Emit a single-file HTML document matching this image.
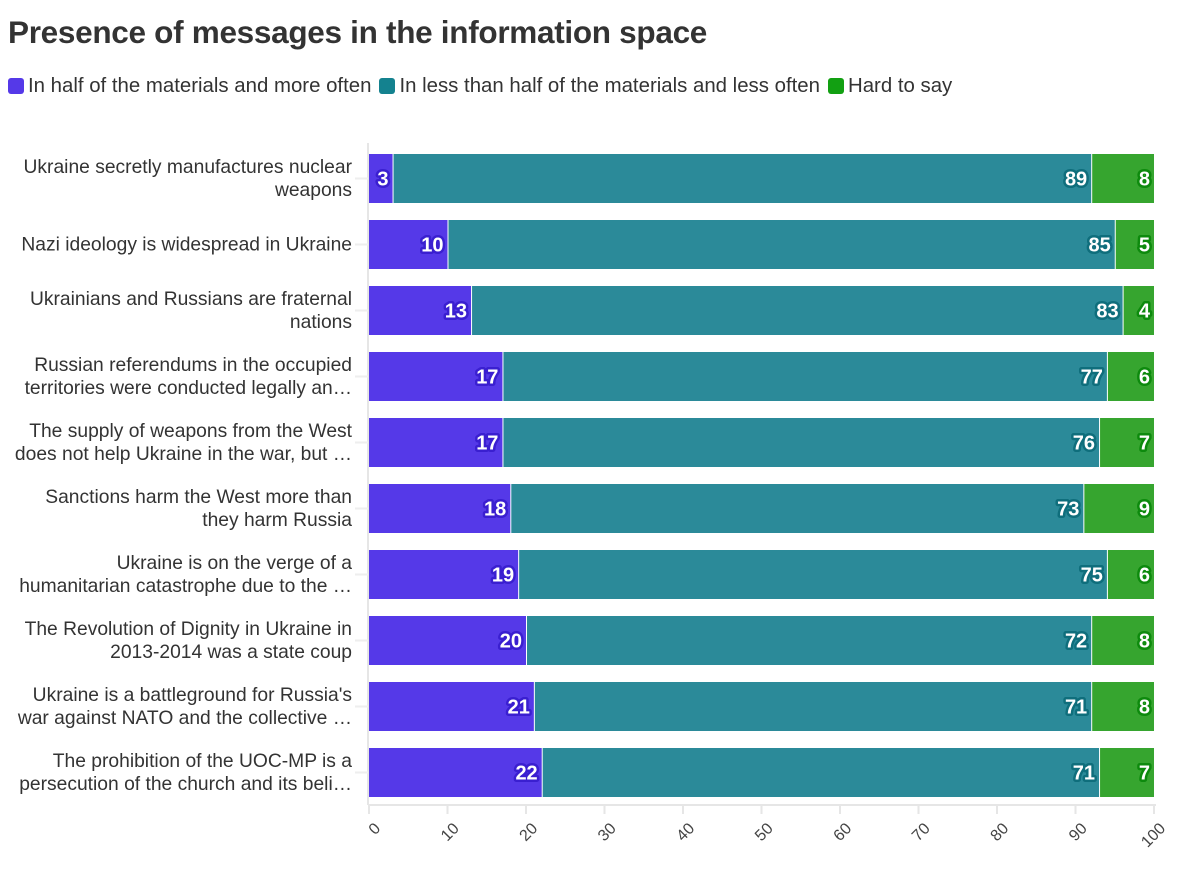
<!DOCTYPE html>
<html><head><meta charset="utf-8"><style>
body{margin:0;background:#fff;font-family:"Liberation Sans",sans-serif;}
#wrap{position:relative;width:1184px;height:872px;overflow:hidden}
h1{position:absolute;left:8px;top:14px;margin:0;font-size:31.5px;font-weight:bold;color:#333;letter-spacing:-0.3px}
.legend{position:absolute;left:8px;top:75px;font-size:20.4px;color:#333;display:flex;gap:8px}
.legend span.sw{display:inline-block;width:16px;height:16px;border-radius:3px;vertical-align:-2px;margin-right:4px}
</style></head><body><div id="wrap">
<h1>Presence of messages in the information space</h1>
<div class="legend">
<div><span class="sw" style="background:#5539e8"></span>In half of the materials and more often</div>
<div><span class="sw" style="background:#14828f"></span>In less than half of the materials and less often</div>
<div><span class="sw" style="background:#12a012"></span>Hard to say</div>
</div>
<svg id="svg" width="1184" height="872" style="position:absolute;left:0;top:0"></svg>
</div>
<script>
const categories=[["Ukraine secretly manufactures nuclear","weapons"],["Nazi ideology is widespread in Ukraine"],["Ukrainians and Russians are fraternal","nations"],["Russian referendums in the occupied","territories were conducted legally an…"],["The supply of weapons from the West","does not help Ukraine in the war, but …"],["Sanctions harm the West more than","they harm Russia"],["Ukraine is on the verge of a","humanitarian catastrophe due to the …"],["The Revolution of Dignity in Ukraine in","2013-2014 was a state coup"],["Ukraine is a battleground for Russia's","war against NATO and the collective …"],["The prohibition of the UOC-MP is a","persecution of the church and its beli…"]];
const often=[3,10,13,17,17,18,19,20,21,22];
const less=[89,85,83,77,76,73,75,72,71,71];
const hard=[8,5,4,6,7,9,6,8,8,7];
const ticks=[0,10,20,30,40,50,60,70,80,90,100];
const svg=document.getElementById('svg');const NS='http://www.w3.org/2000/svg';
function mk(t,a,p){const e=document.createElementNS(NS,t);for(const k in a)e.setAttribute(k,a[k]);(p||svg).appendChild(e);return e;}
const x=v=>369+v*7.85;
const rowTop=i=>154+i*66;const bh=49;
mk('line',{x1:368,y1:143,x2:368,y2:805,stroke:'#e6e6e6','stroke-width':2});
mk('line',{x1:368,y1:805,x2:1156,y2:805,stroke:'#e6e6e6','stroke-width':2});
ticks.forEach(t=>{
 mk('line',{x1:x(t),y1:805,x2:x(t),y2:814,stroke:'#e6e6e6','stroke-width':2});
 const ax=x(t)+5,ay=822;
 const tx=mk('text',{x:ax,y:ay,transform:`rotate(-45 ${ax} ${ay})`,'font-size':16,fill:'#444','text-anchor':'end','dominant-baseline':'hanging'});tx.textContent=t;
 
});
const series=[[often,'#5539e8','#3a1fd0'],[less,'#2b8a99','#0f6e7c'],[hard,'#36a52f','#0d8a0d']];
categories.forEach((c,i)=>{
 const y=rowTop(i);
 mk('line',{x1:355,y1:y+bh/2,x2:368,y2:y+bh/2,stroke:'#eee','stroke-width':2});
 const n=c.length;
 c.forEach((l,j)=>{const t=mk('text',{x:352,y:y+bh/2+6+(j-(n-1)/2)*23,'text-anchor':'end','font-size':17.5,fill:'#333',textLength:0});t.removeAttribute('textLength');t.textContent=l;
  t.setAttribute('style','font-size:17.5px');
  
  const w=t.getComputedTextLength();t.setAttribute('style','font-size:'+(17.5*1.1)+'px');
  if(352-w*1.1<4){t.setAttribute('textLength',348);t.setAttribute('lengthAdjust','spacingAndGlyphs');}
 });
 let acc=0;
 series.forEach(([arr,col,dk],k)=>{
  const v=arr[i];const r=mk('rect',{x:x(acc)+(k?1:0),y:y,width:Math.max(0,x(acc+v)-x(acc)-(k?1:0)),height:bh,fill:col});
  
  const t=mk('text',{x:x(acc+v)-4,y:y+bh/2+7,'text-anchor':'end','font-size':20,'font-weight':'bold',fill:'#fff',stroke:dk,'stroke-width':5,'paint-order':'stroke','stroke-linejoin':'round'});
  t.textContent=v;
  acc+=v;
 });
});
</script></body></html>
